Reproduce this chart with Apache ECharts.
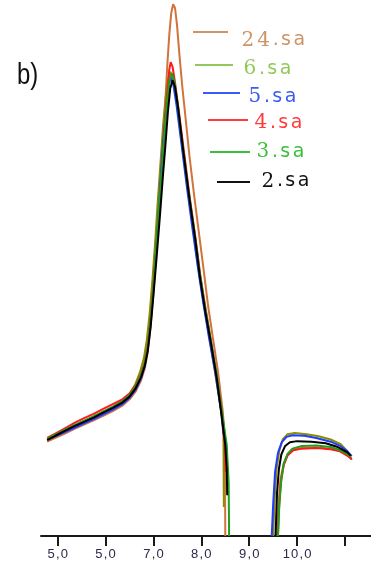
<!DOCTYPE html>
<html>
<head>
<meta charset="utf-8">
<script src="https://cdn.jsdelivr.net/npm/echarts@6/dist/echarts.min.js"></script>
<style>
  html, body { margin: 0; padding: 0; background: #fff; }
  #chart { width: 371px; height: 586px; }
</style>
</head>
<body>
<div id="chart"></div>
<script>
// Sample names, in legend order (top to bottom)
const sampleNames = ['24.sa', '6.sa', '5.sa', '4.sa', '3.sa', '2.sa'];

// Tick positions and tick labels of the x axis
const tickValues = [5, 6, 7, 8, 9, 10, 11];
const labelValues = [5, 6, 7, 8, 9, 10];
const tickLabels = ['5,0', '5,0', '7,0', '8,0', '9,0', '10,0'];

// Curves: [x, signal] pairs, low-field branch and high-field branch
const sa24Low = [[4.78,17.6],[4.95,18.3],[5.15,19.1],[5.35,20.0],[5.55,20.8],[5.75,21.6],[5.95,22.4],[6.15,23.3],[6.35,24.3],[6.5,25.5],[6.63,27.0],[6.74,29.0],[6.82,31.3],[6.88,34.3],[6.94,39.0],[7.0,45.5],[7.06,53.0],[7.12,61.0],[7.17,68.5],[7.21,75.0],[7.25,81.5],[7.29,88.0],[7.33,93.5],[7.37,97.5],[7.41,99.2],[7.45,98.5],[7.49,95.5],[7.54,90.0],[7.6,84.0],[7.67,78.0],[7.75,71.0],[7.85,63.5],[7.95,56.5],[8.05,49.5],[8.14,43.0],[8.24,37.0],[8.35,30.5],[8.45,23.0],[8.49,18.0],[8.5,0]];
const sa24High = [[9.58,0],[9.61,6],[9.65,10.5],[9.72,13.5],[9.8,15.2],[9.92,16.1],[10.1,16.4],[10.4,16.5],[10.7,16.3],[10.9,15.8],[11.05,15.0],[11.14,14.4]];

const sa6Low = [[4.78,18.0],[4.95,18.8],[5.15,19.7],[5.35,20.6],[5.55,21.4],[5.75,22.3],[5.95,23.2],[6.15,24.1],[6.35,25.2],[6.5,26.5],[6.62,28.3],[6.72,30.6],[6.8,33.2],[6.86,36.5],[6.92,41.5],[6.98,48.0],[7.04,55.5],[7.09,62.5],[7.15,70.0],[7.2,76.5],[7.25,81.5],[7.3,85.0],[7.35,86.6],[7.4,85.8],[7.47,82.0],[7.57,75.0],[7.69,66.5],[7.81,58.5],[7.92,51.0],[8.03,44.5],[8.15,38.0],[8.28,31.0],[8.4,24.0],[8.46,21.0],[8.47,5.4]];
const sa6High = [[9.5,0],[9.53,7],[9.57,12.5],[9.63,16.0],[9.7,18.0],[9.8,19.0],[9.95,19.2],[10.2,19.0],[10.45,18.6],[10.7,18.0],[10.9,17.2],[11.05,15.8],[11.14,14.2]];

const sa5Low = [[4.78,18.0],[4.95,18.6],[5.15,19.4],[5.35,20.2],[5.55,21.0],[5.75,21.8],[5.95,22.7],[6.15,23.6],[6.35,24.6],[6.5,25.8],[6.63,27.3],[6.74,29.4],[6.82,31.8],[6.88,35.0],[6.94,40.0],[7.0,46.5],[7.06,54.0],[7.12,62.0],[7.17,69.5],[7.22,75.5],[7.27,80.5],[7.32,84.0],[7.36,85.5],[7.41,84.5],[7.48,80.5],[7.58,73.5],[7.7,65.0],[7.82,57.0],[7.93,50.0],[8.04,43.5],[8.16,37.0],[8.29,30.5],[8.41,23.5],[8.46,19.0]];
const sa5High = [[9.47,0],[9.5,6],[9.54,12.0],[9.6,15.5],[9.68,17.5],[9.78,18.5],[9.9,18.8],[10.15,18.7],[10.4,18.3],[10.7,17.6],[10.9,16.8],[11.05,15.8],[11.14,14.9]];

const sa4Low = [[4.78,18.3],[4.95,19.1],[5.15,20.1],[5.35,21.1],[5.55,22.0],[5.75,22.8],[5.95,23.7],[6.15,24.6],[6.35,25.5],[6.5,26.6],[6.63,28.1],[6.74,30.2],[6.82,32.5],[6.88,35.5],[6.94,40.3],[7.0,46.8],[7.07,54.5],[7.13,62.0],[7.19,70.0],[7.24,77.0],[7.29,83.0],[7.33,87.0],[7.36,88.4],[7.4,87.5],[7.46,84.0],[7.54,78.5],[7.64,71.5],[7.76,63.0],[7.88,55.5],[7.98,48.5],[8.09,42.3],[8.2,36.3],[8.32,29.8],[8.43,22.5],[8.49,17.0],[8.51,12.0]];
const sa4High = [[9.6,0],[9.62,5],[9.66,10],[9.72,13.2],[9.8,15.0],[9.92,16.0],[10.1,16.3],[10.4,16.4],[10.7,16.2],[10.9,15.8],[11.05,15.0],[11.14,14.3]];

const sa3Low = [[4.78,18.1],[4.95,18.9],[5.15,19.8],[5.35,20.7],[5.55,21.5],[5.75,22.3],[5.95,23.2],[6.15,24.1],[6.35,25.1],[6.5,26.3],[6.63,27.9],[6.74,30.0],[6.82,32.3],[6.88,35.2],[6.94,40.0],[7.0,46.5],[7.06,54.0],[7.12,61.5],[7.18,69.0],[7.23,75.0],[7.28,80.5],[7.33,84.8],[7.38,86.3],[7.43,85.0],[7.5,81.0],[7.6,73.5],[7.73,64.5],[7.85,57.0],[7.96,49.5],[8.07,43.0],[8.19,37.0],[8.32,30.0],[8.44,22.5],[8.53,17.0],[8.57,10.0],[8.58,0]];
const sa3High = [[9.6,0],[9.63,6],[9.67,10.5],[9.72,13.5],[9.8,15.3],[9.9,16.3],[10.1,16.8],[10.4,16.9],[10.7,16.6],[10.9,16.0],[11.05,15.3],[11.12,14.8]];

const sa2Low = [[4.78,17.9],[4.95,18.7],[5.15,19.6],[5.35,20.5],[5.55,21.3],[5.75,22.1],[5.95,23.0],[6.15,23.9],[6.35,24.9],[6.5,26.0],[6.63,27.6],[6.74,29.6],[6.82,31.8],[6.88,34.5],[6.94,39.0],[7.0,45.0],[7.07,52.5],[7.14,60.3],[7.2,67.5],[7.25,73.0],[7.3,79.0],[7.35,83.5],[7.4,85.0],[7.45,83.8],[7.52,79.5],[7.62,72.0],[7.75,63.0],[7.87,55.5],[7.97,48.3],[8.08,42.0],[8.2,36.0],[8.32,29.5],[8.43,22.0],[8.5,17.0],[8.53,12.5],[8.54,7.6]];
const sa2High = [[9.55,0],[9.58,8],[9.62,12.5],[9.67,15.2],[9.75,16.8],[9.85,17.5],[10.0,17.7],[10.3,17.6],[10.6,17.3],[10.85,16.6],[11.05,15.6],[11.12,15.0]];

// Styling per sample: curve colour, legend colour
const curveColors = ['#d2733c', '#8c8c00', '#1f3dff', '#ff1a1a', '#1f9e1f', '#000000'];
const keyColors = ['#cf9466', '#93c85a', '#3a5cf2', '#ff3b3b', '#3cbf3c', '#111111'];

const branches = [
  [sa24Low, sa24High],
  [sa6Low, sa6High],
  [sa5Low, sa5High],
  [sa4Low, sa4High],
  [sa3Low, sa3High],
  [sa2Low, sa2High]
];

// Legend key placement: [left, line centre y, line length, text gap, text shift below line]
const keyPlacement = [
  [193, 32, 35, 12, 8.5],
  [195, 65, 38, 9, 4],
  [203, 93, 37, 7, 4],
  [208, 120, 40, 5, 3],
  [210, 152, 40, 5, 0],
  [217, 182, 33, 10, -0.5]
];

// Wrap every character in its own rich token so the glyphs get some spacing
function spaced(text, digitStyle, restStyle) {
  let out = '';
  let inDigits = true;
  for (const ch of text) {
    if (ch === '.' || ch === ',') inDigits = false;
    out += '{' + (inDigits ? digitStyle : restStyle) + '|' + ch + '}';
  }
  return out;
}

const chart = echarts.init(document.getElementById('chart'), null, { renderer: 'canvas' });

const series = sampleNames.map((name, i) => ({
  name: name,
  type: 'line',
  data: branches[i][0].concat([[9.0, '-']], branches[i][1]),
  showSymbol: false,
  connectNulls: false,
  clip: true,
  lineStyle: { color: curveColors[i], width: 2 },
  itemStyle: { color: curveColors[i] },
  z: 2 + i,
  animation: false
}));

const textLineHeight = 22;
const legends = sampleNames.map((name, i) => {
  const [left, cy, len, gap, shift] = keyPlacement[i];
  const padTop = Math.max(0, 2 * shift);
  const padBottom = Math.max(0, -2 * shift);
  return {
    show: true,
    left: left,
    top: cy - (textLineHeight + padTop + padBottom) / 2,
    padding: 0,
    itemWidth: len,
    itemHeight: 2,
    icon: 'rect',
    selectedMode: false,
    data: [{
      name: name,
      icon: 'rect',
      itemStyle: { color: keyColors[i], borderWidth: 0 }
    }],
    formatter: function (n) { return spaced(n, 'n', 's'); },
    textStyle: {
      color: keyColors[i],
      padding: [padTop, 0, padBottom, gap - 5],
      lineHeight: textLineHeight,
      rich: {
        n: { fontFamily: 'DejaVu Serif', fontSize: 20, color: keyColors[i], lineHeight: textLineHeight, padding: [0, 1.5, 0, 1.5] },
        s: { fontFamily: 'DejaVu Sans', fontSize: 19, color: keyColors[i], lineHeight: textLineHeight, padding: [0, 1.2, 0, 1.2] }
      }
    }
  };
});

chart.setOption({
  backgroundColor: '#ffffff',
  animation: false,
  grid: { left: 41, right: 0, top: 0, bottom: 50, containLabel: false },
  xAxis: {
    type: 'value',
    min: 4.651,
    max: 11.543,
    axisLine: { show: true, onZero: false, lineStyle: { color: '#1a1a1a', width: 2 } },
    axisTick: { show: true, customValues: tickValues, length: 10, lineStyle: { color: '#1a1a1a', width: 2 } },
    axisLabel: {
      show: true,
      customValues: labelValues,
      margin: 12,
      color: '#2a2a4a',
      fontFamily: 'Liberation Sans',
      fontSize: 13,
      rich: {
        c: { fontFamily: 'Liberation Sans', fontSize: 13, color: '#2a2a4a', padding: [0, 0.6, 0, 0.6] }
      },
      formatter: function (v) {
        const k = labelValues.indexOf(Math.round(v));
        return k >= 0 ? spaced(tickLabels[k], 'c', 'c') : '';
      }
    },
    splitLine: { show: false }
  },
  yAxis: {
    type: 'value',
    min: 0,
    max: 100,
    show: false,
    splitLine: { show: false }
  },
  legend: legends,
  graphic: [{
    type: 'text',
    x: 17,
    y: 61,
    scaleX: 0.8,
    style: { text: 'b)', fontFamily: 'Liberation Sans', fontSize: 30, fill: '#111', verticalAlign: 'top' }
  }],
  series: series
});
</script>
</body>
</html>
